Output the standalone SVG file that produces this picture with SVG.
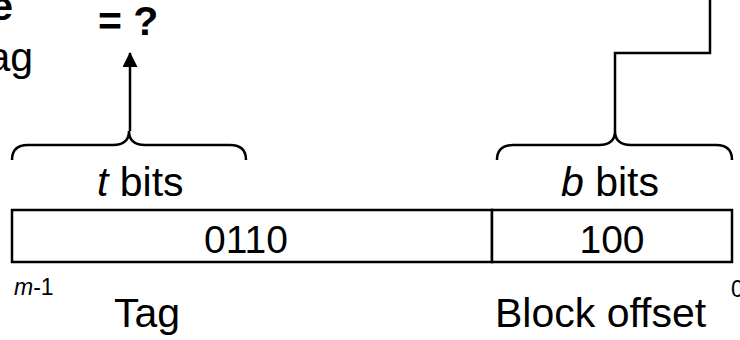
<svg xmlns="http://www.w3.org/2000/svg" width="740" height="340" viewBox="0 0 740 340">
<style>
text{font-family:"Liberation Sans",Arial,Helvetica,sans-serif;fill:#000}
.big{font-size:41px}
.num{font-size:39px}
.bold{font-weight:bold}
.small{font-size:23px}
.ln{fill:none;stroke:#000;stroke-width:2.5}
.box{fill:#fff;stroke:#000;stroke-width:2.5}
</style>
<defs>
<marker id="ah" markerWidth="15" markerHeight="16" refX="14" refY="7.5" orient="auto" markerUnits="userSpaceOnUse" viewBox="0 0 15 16">
<path d="M0,0 L15,7.5 L0,15 Z" fill="#000"/>
</marker>
</defs>
<g id="partial-labels">
<text class="big bold" x="13" y="20" text-anchor="end">e</text>
<text class="big" x="33" y="71" text-anchor="end">ag</text>
</g>
<g id="compare">
<text class="big bold" x="98" y="35">= ?</text>
</g>
<g id="address">
<rect class="box" x="12" y="210" width="480" height="52"/>
<rect class="box" x="492" y="210" width="240" height="52"/>
<text class="num" x="246" y="253" text-anchor="middle">0110</text>
<text class="num" x="612" y="253" text-anchor="middle">100</text>
</g>
<g id="tag-brace">
<path class="ln" d="M12,160 Q12,145 28,145 L113,145 Q129,145 129,131 Q129,145 145,145 L230,145 Q246,145 246,160"/>
<text class="big" x="97" y="196"><tspan font-style="italic">t</tspan> bits</text>
</g>
<g id="offset-brace">
<path class="ln" d="M497,160 Q497,145 513,145 L599,145 Q615,145 615,131 Q615,145 631,145 L716,145 Q732,145 732,160"/>
<text class="big" x="561" y="196"><tspan font-style="italic">b</tspan> bits</text>
</g>
<g id="labels">
<text class="small" x="14" y="295"><tspan font-style="italic">m</tspan>-1</text>
<text class="small" x="731" y="297">0</text>
<text class="big" x="114" y="327">Tag</text>
<text class="big" x="495" y="327">Block offset</text>
</g>
<g id="connectors">
<path class="ln" d="M130,131 L130,53" marker-end="url(#ah)"/>
<path class="ln" d="M710,0 L710,53 L615,53 L615,131"/>
</g>
</svg>
